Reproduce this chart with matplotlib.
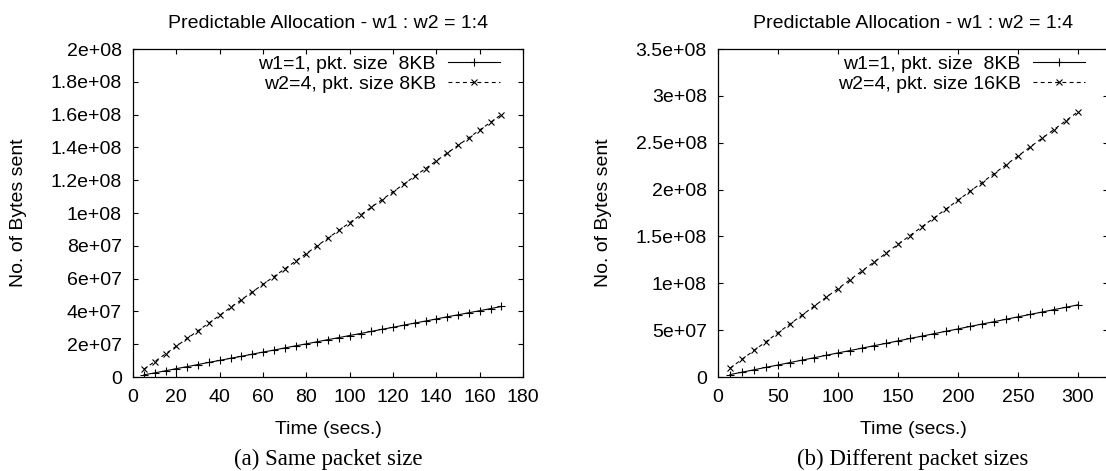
import matplotlib
matplotlib.use('Agg')
import matplotlib.pyplot as plt
from matplotlib.ticker import FuncFormatter, MultipleLocator

plt.rcParams['font.family'] = ['Liberation Sans', 'DejaVu Sans']
plt.rcParams['font.size'] = 14

title = 'Predictable Allocation - w1 : w2 = 1:4'
ylabel = 'No. of Bytes sent'
xlabel = 'Time (secs.)'

# (a) same packet size -- values in millions of bytes
time_a = [5, 10, 15, 20, 25, 30, 35, 40, 45, 50, 55, 60, 65, 70, 75, 80, 85,
          90, 95, 100, 105, 110, 115, 120, 125, 130, 135, 140, 145, 150, 155,
          160, 165, 170]
w1_a = [1.3, 2.5, 3.8, 5.1, 6.3, 7.6, 8.9, 10.1, 11.4, 12.6, 13.9, 15.2, 16.4,
        17.7, 19.0, 20.2, 21.5, 22.8, 24.0, 25.3, 26.5, 27.8, 29.1, 30.3, 31.6,
        32.9, 34.1, 35.4, 36.7, 37.9, 39.2, 40.4, 41.7, 43.0]
w2_a = [4.7, 9.4, 14.1, 18.8, 23.5, 28.2, 32.9, 37.6, 42.4, 47.1, 51.8, 56.5,
        61.2, 65.9, 70.6, 75.3, 80.0, 84.7, 89.4, 94.1, 98.8, 103.5, 108.2,
        112.9, 117.6, 122.4, 127.1, 131.8, 136.5, 141.2, 145.9, 150.6, 155.3,
        160.0]
labels_a = ['w1=1, pkt. size  8KB', 'w2=4, pkt. size 8KB']
caption_a = '(a) Same packet size'

# (b) different packet sizes
time_b = [10, 20, 30, 40, 50, 60, 70, 80, 90, 100, 110, 120, 130, 140, 150,
          160, 170, 180, 190, 200, 210, 220, 230, 240, 250, 260, 270, 280, 290,
          300]
w1_b = [2.6, 5.1, 7.7, 10.3, 12.8, 15.4, 18.0, 20.5, 23.1, 25.7, 28.2, 30.8,
        33.4, 35.9, 38.5, 41.1, 43.6, 46.2, 48.8, 51.3, 53.9, 56.5, 59.0, 61.6,
        64.2, 66.7, 69.3, 71.9, 74.4, 77.0]
w2_b = [9.4, 18.9, 28.3, 37.7, 47.2, 56.6, 66.0, 75.5, 84.9, 94.3, 103.8,
        113.2, 122.6, 132.1, 141.5, 150.9, 160.4, 169.8, 179.2, 188.7, 198.1,
        207.5, 217.0, 226.4, 235.8, 245.3, 254.7, 264.1, 273.6, 283.0]
labels_b = ['w1=1, pkt. size  8KB', 'w2=4, pkt. size 16KB']
caption_b = '(b) Different packet sizes'

MB = 1e6
W, H = 1106.0, 471.0


def draw_panel(ax, t, w1, w2, labels, xmax, xstep, ymax, ystep):
	ax.plot(t, [v * MB for v in w1], color='black', lw=0.8, marker='+',
			ms=6, mew=0.8, label=labels[0])
	ax.plot(t, [v * MB for v in w2], color='black', lw=0.8, marker='x',
			ms=4.5, mew=0.8, dashes=(3.5, 3), label=labels[1])
	ax.set_xlim(0, xmax)
	ax.set_ylim(0, ymax)
	ax.xaxis.set_major_locator(MultipleLocator(xstep))
	ax.yaxis.set_major_locator(MultipleLocator(ystep))
	ax.yaxis.set_major_formatter(FuncFormatter(lambda v, p: '%g' % v))
	ax.tick_params(direction='in', top=True, right=True, length=3.5,
				   width=0.8, labelsize=14)
	ax.tick_params(axis='x', pad=9)
	ax.tick_params(axis='y', pad=8)
	for s in ax.spines.values():
		s.set_linewidth(0.9)
	ax.set_title(title, fontsize=14, pad=15)
	ax.set_xlabel(xlabel, fontsize=14, labelpad=10.5)
	ax.set_ylabel(ylabel, fontsize=14)
	ax.yaxis.set_label_coords(-106.0 / 390, 0.5)

	# gnuplot-style key: text right-aligned, sample line after the text
	leg = ax.legend(loc='upper right', bbox_to_anchor=(1 - 23 / 390.0, 1 - 6 / 328.0),
					frameon=False, markerfirst=False, borderpad=0,
					borderaxespad=0, handlelength=2.7, handletextpad=0.6,
					labelspacing=0.12, fontsize=14)
	for col in leg._legend_handle_box.get_children():
		col.align = 'right'
	return ax


fig = plt.figure(figsize=(W / 100, H / 100), dpi=100)
ax1 = fig.add_axes([133 / W, (H - 377) / H, 390 / W, 328 / H])
ax2 = fig.add_axes([718 / W, (H - 377) / H, 390 / W, 328 / H])

draw_panel(ax1, time_a, w1_a, w2_a, labels_a, 180, 20, 2e8, 2e7)
draw_panel(ax2, time_b, w1_b, w2_b, labels_b, 325, 50, 3.5e8, 5e7)

fig.text((133 + 195) / W, 6 / H, caption_a, family=['Liberation Serif', 'DejaVu Serif'],
		 fontsize=16.5, ha='center', va='baseline')
fig.text((718 + 195) / W, 6 / H, caption_b, family=['Liberation Serif', 'DejaVu Serif'],
		 fontsize=16.5, ha='center', va='baseline')

fig.savefig('out.png', dpi=100)
